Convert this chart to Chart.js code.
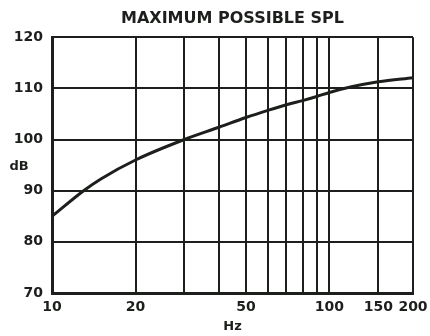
<!DOCTYPE html>
<html>
<head>
<meta charset="utf-8">
<script src="https://cdn.jsdelivr.net/npm/chart.js@4"></script>
<style>
    html, body { margin: 0; padding: 0; background: #fff; }
    #wrap { width: 430px; height: 336px; }
</style>
</head>
<body>
<div id="wrap"><canvas id="splChart" width="430" height="336"></canvas></div>
<script>
// values
const freqs = [10, 13, 15, 20, 30, 40, 50, 60, 70, 80, 90, 100, 120, 150, 200];
const spl = [85, 90, 92.3, 96, 100, 102.4, 104.3, 105.7, 106.8, 107.6, 108.4, 109.2, 110.3, 111.3, 112.1];

const gridFreqs = [10, 20, 30, 40, 50, 60, 70, 80, 90, 100, 150, 200];
const labelFreqs = [10, 20, 50, 100, 150, 200];

const ink = '#1c1f1c';
const boldFont = { family: 'DejaVu Sans', size: 14, weight: 'bold' };

// "dB" sits horizontally left of the y axis
const dbLabel = {
    id: 'dbLabel',
    afterDraw(chart) {
        const ctx = chart.ctx;
        const y = chart.scales.y.getPixelForValue(94.7);
        ctx.save();
        ctx.fillStyle = ink;
        ctx.font = 'bold 13px "DejaVu Sans"';
        ctx.textAlign = 'center';
        ctx.textBaseline = 'middle';
        ctx.fillText('dB', 19, y);
        ctx.restore();
    }
};

const ctx = document.getElementById('splChart').getContext('2d');
const splChart = new Chart(ctx, {
    type: 'line',
    data: {
        datasets: [{
            label: 'Max SPL',
            data: freqs.map((f, i) => ({ x: f, y: spl[i] })),
            borderColor: ink,
            borderWidth: 3,
            pointRadius: 0,
            cubicInterpolationMode: 'monotone',
            fill: false
        }]
    },
    options: {
        responsive: false,
        animation: false,
        layout: { padding: { left: 0, right: 17, top: 0, bottom: 0 } },
        plugins: {
            legend: { display: false },
            tooltip: { enabled: false },
            title: {
                display: true,
                fullSize: false,
                text: 'MAXIMUM POSSIBLE SPL',
                color: ink,
                font: { family: 'DejaVu Sans', size: 16, weight: 'bold' },
                padding: { top: 9, bottom: 9 }
            }
        },
        scales: {
            x: {
                type: 'logarithmic',
                min: 10,
                max: 200,
                afterBuildTicks: scale => {
                    scale.ticks = gridFreqs.map(v => ({ value: v }));
                },
                afterFit: scale => {
                    scale.height = 43;
                    scale.paddingLeft = 0;
                    scale.paddingRight = 0;
                },
                ticks: {
                    autoSkip: false,
                    maxRotation: 0,
                    padding: 6,
                    color: ink,
                    font: boldFont,
                    callback: value => labelFreqs.includes(value) ? String(value) : ''
                },
                grid: { color: ink, lineWidth: 2, drawTicks: false },
                border: { color: ink, width: 3 },
                title: {
                    display: true,
                    text: 'Hz',
                    color: ink,
                    font: { family: 'DejaVu Sans', size: 13, weight: 'bold' },
                    padding: { top: 0, bottom: 2 }
                }
            },
            y: {
                min: 70,
                max: 120,
                afterFit: scale => { scale.width = 52; },
                ticks: {
                    stepSize: 10,
                    padding: 9,
                    color: ink,
                    font: boldFont
                },
                grid: { color: ink, lineWidth: 2, drawTicks: false },
                border: { color: ink, width: 3 }
            }
        }
    },
    plugins: [dbLabel]
});
</script>
</body>
</html>
